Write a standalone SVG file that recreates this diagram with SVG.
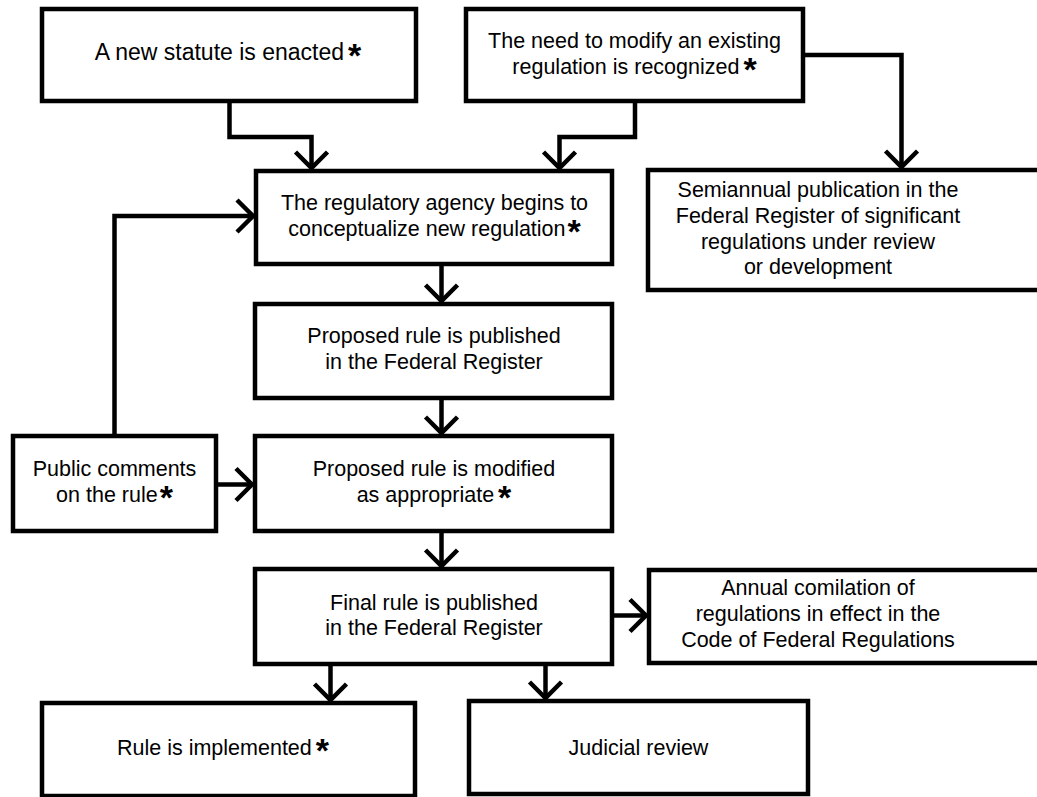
<svg xmlns="http://www.w3.org/2000/svg" width="1037" height="797" viewBox="0 0 1037 797">
<style>
.box{fill:#fff;stroke:#000;stroke-width:4.5}
.t{font-family:"Liberation Sans",Arial,sans-serif;font-size:21.5px;fill:#000;text-anchor:middle}
.big{font-size:23px}
.star{font-size:34px;font-weight:bold}
.c{fill:none;stroke:#000;stroke-width:4.5;marker-end:url(#arr)}
</style>
<defs>
<marker id="arr" viewBox="-22 -20 26 40" refX="0" refY="0" markerWidth="26" markerHeight="40" markerUnits="userSpaceOnUse" orient="auto">
<path d="M-16,-16 L0,0 L-16,16" fill="none" stroke="#000" stroke-width="4.5"/>
</marker>
</defs>
<rect width="1037" height="797" fill="#fff"/>
<g id="connectors">
<path class="c" d="M229.5,101 V137 H311.5 V168"/>
<path class="c" d="M635,101 V137 H559.5 V168"/>
<path class="c" d="M803,55 H901.5 V167"/>
<path class="c" d="M114.5,436 V216 H253"/>
<path class="c" d="M441.5,264 V301"/>
<path class="c" d="M441.5,398 V433"/>
<path class="c" d="M441.5,531 V566"/>
<path class="c" d="M216,484.5 H252"/>
<path class="c" d="M612,615.5 H646"/>
<path class="c" d="M330.5,664 V700"/>
<path class="c" d="M545.5,664 V698"/>
</g>
<g id="n1"><rect class="box" x="42" y="9" width="374" height="92"/>
<text class="t big" x="228" y="60">A new statute is enacted<tspan class="star" dx="4" dy="7">*</tspan></text></g>
<g id="n2"><rect class="box" x="466" y="9" width="337" height="92"/>
<text class="t" x="634.5" y="47.5">The need to modify an existing</text>
<text class="t" x="634.5" y="73.5">regulation is recognized<tspan class="star" dx="4" dy="7">*</tspan></text></g>
<g id="n3"><rect class="box" x="256" y="171" width="356" height="93"/>
<text class="t" x="434.5" y="210">The regulatory agency begins to</text>
<text class="t" x="434.5" y="236">conceptualize new regulation<tspan class="star" dx="2" dy="7">*</tspan></text></g>
<g id="n4"><rect class="box" x="648" y="170" width="400" height="120"/>
<text class="t" x="818" y="197">Semiannual publication in the</text>
<text class="t" x="818" y="223">Federal Register of significant</text>
<text class="t" x="818" y="248.5">regulations under review</text>
<text class="t" x="818" y="274">or development</text></g>
<g id="n5"><rect class="box" x="255" y="304" width="357" height="94"/>
<text class="t" x="434" y="343">Proposed rule is published</text>
<text class="t" x="434" y="369">in the Federal Register</text></g>
<g id="n6"><rect class="box" x="255" y="436" width="357" height="95"/>
<text class="t" x="434" y="476">Proposed rule is modified</text>
<text class="t" x="434" y="502">as appropriate<tspan class="star" dx="4" dy="7">*</tspan></text></g>
<g id="n7"><rect class="box" x="13" y="436" width="203" height="95"/>
<text class="t" x="114.5" y="476">Public comments</text>
<text class="t" x="114.5" y="502">on the rule<tspan class="star" dx="2" dy="7">*</tspan></text></g>
<g id="n8"><rect class="box" x="255" y="569" width="357" height="95"/>
<text class="t" x="434" y="610">Final rule is published</text>
<text class="t" x="434" y="635">in the Federal Register</text></g>
<g id="n9"><rect class="box" x="649" y="570" width="400" height="93"/>
<text class="t" x="818" y="595">Annual comilation of</text>
<text class="t" x="818" y="621">regulations in effect in the</text>
<text class="t" x="818" y="647">Code of Federal Regulations</text></g>
<g id="n10"><rect class="box" x="42" y="703" width="373" height="93"/>
<text class="t" x="223" y="755">Rule is implemented<tspan class="star" dx="4" dy="7">*</tspan></text></g>
<g id="n11"><rect class="box" x="469" y="701" width="339" height="93"/>
<text class="t" x="638.5" y="755">Judicial review</text></g>
</svg>
